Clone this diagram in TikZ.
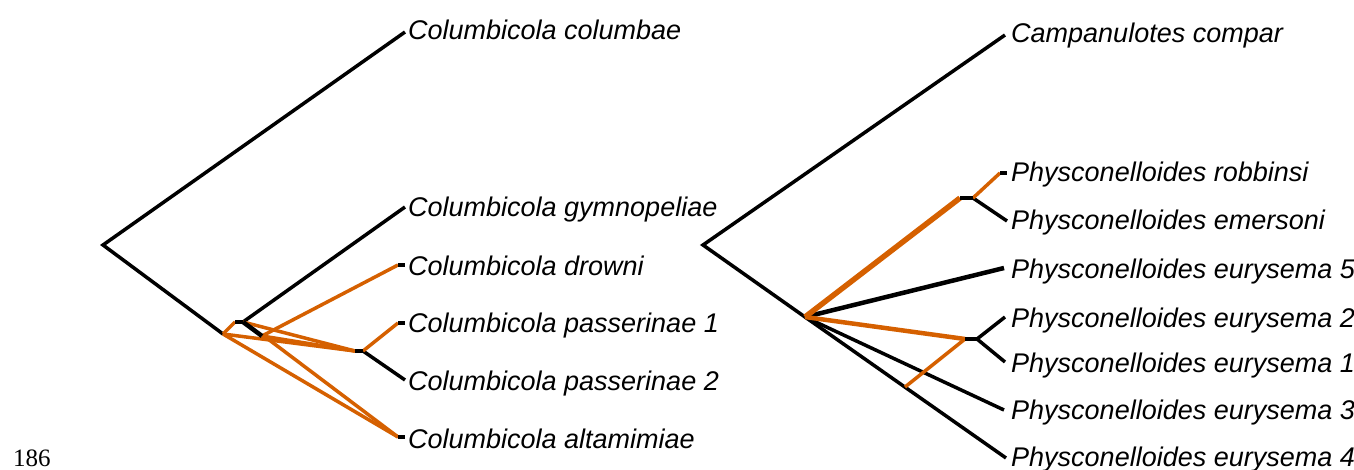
\documentclass[tikz,border=0pt]{standalone}
\usepackage{fontspec}
\setmainfont{Liberation Sans}
\newfontfamily\serifnum{Liberation Serif}
\definecolor{hostorange}{RGB}{213,96,0}
\begin{document}
\begin{tikzpicture}[x=1pt,y=-1pt,
  br/.style={line width=3.5pt,black},
  ob/.style={line width=3.5pt,hostorange},
  stub/.style={line width=4.5pt,black},
  lab/.style={anchor=base west,inner sep=0pt,font=\itshape\fontsize{27}{30}\selectfont}]
\useasboundingbox (0,0) rectangle (1354,470);
% ---------- left tree ----------
\coordinate (LA) at (103,245);
\coordinate (LB) at (223,334);
\coordinate (LCl) at (235,322);
\coordinate (LC) at (243,322);
\coordinate (LD) at (262,336);
\coordinate (LEl) at (355,351);
\coordinate (LE) at (363,351);
\coordinate (t1) at (405,32);
\coordinate (t2) at (405,207);
\coordinate (t3l) at (398,265);
\coordinate (t3) at (405,265);
\coordinate (t4l) at (398,323);
\coordinate (t4) at (405,323);
\coordinate (t5) at (405,380);
\coordinate (t6l) at (398,437);
\coordinate (t6) at (405,437);
\draw[br] (t1) -- (LA) -- (LB);
\draw[br] (LC) -- (t2);
\draw[br] (LE) -- (t5);
\draw[ob] (LB) -- (LCl);
\draw[ob] (LB) -- (LEl);
\draw[ob] (LC) -- (LEl);
\draw[ob] (LD) -- (LEl);
\draw[ob] (LD) -- (t3l);
\draw[ob] (LB) -- (t6l);
\draw[ob] (268,339) -- (t6l);
\draw[ob] (LE) -- (t4l);
\draw[line width=4.5pt,black] (LC) -- (LD);
\draw[stub] (LCl) -- (LC);
\draw[stub] (LEl) -- (LE);
\draw[stub] (t3l) -- (t3);
\draw[stub] (t4l) -- (t4);
\draw[stub] (t6l) -- (t6);
\node[lab] (n1) at (408,40) {Columbicola columbae};
\node[lab] (n2) at (408,217) {Columbicola gymnopeliae};
\node[lab] (n3) at (408,276) {Columbicola drowni};
\node[lab] (n4) at (408,332) {Columbicola passerinae 1};
\node[lab] (n5) at (408,390) {Columbicola passerinae 2};
\node[lab] (n6) at (408,448) {Columbicola altamimiae};
% ---------- right tree ----------
\coordinate (RA) at (703,245);
\coordinate (RB) at (805,317);
\coordinate (RCl) at (960,198);
\coordinate (RC) at (973,198);
\coordinate (RDl) at (965,339);
\coordinate (RD) at (977,339);
\coordinate (RX) at (905,387);
\coordinate (s1) at (1005,35);
\coordinate (s2l) at (1000,173);
\coordinate (s2) at (1007,173);
\coordinate (s3) at (1007,221);
\coordinate (s4) at (1004,268);
\coordinate (s5) at (1005,317);
\coordinate (s6) at (1005,362);
\coordinate (s7) at (1004,410);
\coordinate (s8) at (1006,458);
\draw[br] (s1) -- (RA) -- (RB);
\draw[line width=4.5pt] (RB) -- (s4);
\draw[br] (RB) -- (s7);
\draw[br] (RB) -- (s8);
\draw[br] (RC) -- (s3);
\draw[br] (RD) -- (s5);
\draw[br] (RD) -- (s6);
\draw[line width=5.5pt,hostorange] (RB) -- (RCl);
\draw[line width=4.5pt,hostorange] (RB) -- (RDl);
\draw[ob] (RC) -- (s2l);
\draw[ob] (RDl) -- (RX);
\draw[stub] (RCl) -- (RC);
\draw[stub] (RDl) -- (RD);
\draw[stub] (s2l) -- (s2);
\node[lab] (m1) at (1011,43) {Campanulotes compar};
\node[lab] (m2) at (1011,182) {Physconelloides robbinsi};
\node[lab] (m3) at (1011,230) {Physconelloides emersoni};
\node[lab] (m4) at (1011,279) {Physconelloides eurysema 5};
\node[lab] (m5) at (1011,327) {Physconelloides eurysema 2};
\node[lab] (m6) at (1011,372) {Physconelloides eurysema 1};
\node[lab] (m7) at (1011,419) {Physconelloides eurysema 3};
\node[lab] (m8) at (1011,466) {Physconelloides eurysema 4};
% page number
\node[anchor=base west,inner sep=0pt,font=\serifnum\fontsize{25}{27}\selectfont] (pg) at (13,466) {186};
\end{tikzpicture}
\end{document}
